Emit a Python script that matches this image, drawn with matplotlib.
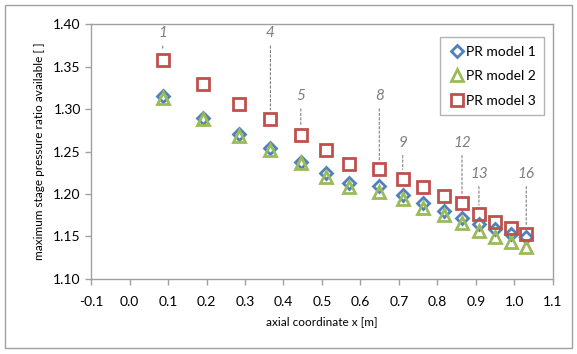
import matplotlib
matplotlib.use('Agg')
import matplotlib.pyplot as plt
from matplotlib.patches import Rectangle

# axial positions of the stages
x_pos = [0.086, 0.190, 0.285, 0.366, 0.445, 0.510, 0.571, 0.649,
         0.710, 0.763, 0.817, 0.864, 0.908, 0.950, 0.991, 1.031]

# pressure ratios for the three models
pr_model_1 = [1.315, 1.290, 1.271, 1.254, 1.238, 1.225, 1.213, 1.209,
              1.199, 1.189, 1.180, 1.172, 1.165, 1.159, 1.153, 1.149]
pr_model_2 = [1.313, 1.288, 1.268, 1.252, 1.236, 1.220, 1.208, 1.202,
              1.194, 1.184, 1.175, 1.166, 1.157, 1.149, 1.143, 1.138]
pr_model_3 = [1.358, 1.330, 1.306, 1.288, 1.270, 1.252, 1.235, 1.229,
              1.218, 1.208, 1.198, 1.189, 1.176, 1.167, 1.160, 1.153]

# stage numbers that get a label, and the height of the label
stage_labels = [1, 4, 5, 8, 9, 12, 13, 16]
label_y = [1.389, 1.389, 1.315, 1.315, 1.260, 1.260, 1.2235, 1.2235]

plt.rcParams['font.family'] = ['Lato', 'DejaVu Sans']

fig = plt.figure(figsize=(5.77, 3.54), dpi=100)
ax = fig.add_axes([0.158, 0.212, 0.800, 0.720])

fig.patches.append(Rectangle((0.009, 0.017), 0.983, 0.97, transform=fig.transFigure,
                             fill=False, edgecolor='#A0A0A0', linewidth=1))

ax.plot(x_pos, pr_model_1, linestyle='none', marker='D', markersize=6,
        markerfacecolor='none', markeredgecolor='#4F81BD', markeredgewidth=2,
        label='PR model 1')
ax.plot(x_pos, pr_model_2, linestyle='none', marker='^', markersize=9,
        markerfacecolor='none', markeredgecolor='#9BBB59', markeredgewidth=2,
        label='PR model 2')
ax.plot(x_pos, pr_model_3, linestyle='none', marker='s', markersize=9,
        markerfacecolor='none', markeredgecolor='#C0504D', markeredgewidth=2,
        label='PR model 3')

for stage, ly in zip(stage_labels, label_y):
    i = stage - 1
    ax.annotate(str(stage), xy=(x_pos[i], pr_model_3[i] + 0.011),
                xytext=(x_pos[i], ly), ha='center', va='center',
                fontsize=11, style='italic', color='#7F7F7F',
                arrowprops=dict(arrowstyle='-', linestyle=(0, (2, 2)),
                                color='#7F7F7F', linewidth=0.8,
                                shrinkA=2, shrinkB=0))

ax.set_xlim(-0.1, 1.1)
ax.set_ylim(1.10, 1.40)
ax.set_xticks([round(-0.1 + 0.1 * k, 1) for k in range(13)])
ax.set_yticks([round(1.10 + 0.05 * k, 2) for k in range(7)])
ax.xaxis.set_major_formatter(plt.FormatStrFormatter('%.1f'))
ax.yaxis.set_major_formatter(plt.FormatStrFormatter('%.2f'))
ax.tick_params(direction='out', length=4, color='#A0A0A0', labelsize=10, width=1)
ax.tick_params(axis='x', pad=8)

for s in ax.spines.values():
    s.set_color('#A0A0A0')
    s.set_linewidth(1)

ax.set_xlabel('axial coordinate x [m]', fontsize=8.5, labelpad=6)
ax.set_ylabel('maximum stage pressure ratio available [ ]', fontsize=8.5, labelpad=6)

leg = ax.legend(loc='upper right', fontsize=10, frameon=True, fancybox=False,
                handletextpad=0.1, handlelength=1.2, borderpad=0.6,
                labelspacing=0.9, bbox_to_anchor=(0.997, 0.975))
leg.get_frame().set_edgecolor('#A0A0A0')
leg.get_frame().set_linewidth(1)

plt.savefig('out.png', dpi=100)
